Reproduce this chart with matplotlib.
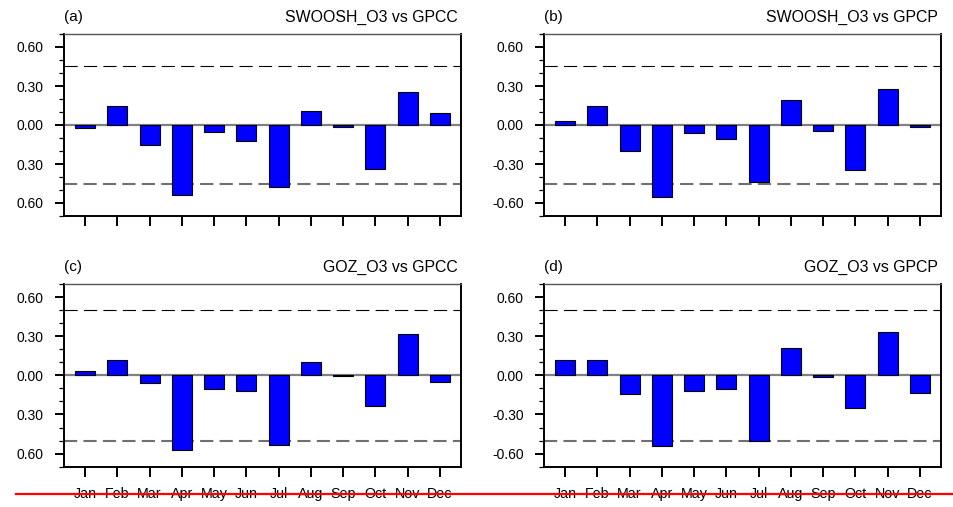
import matplotlib
matplotlib.use("Agg")
import matplotlib.pyplot as plt
from matplotlib.lines import Line2D
import numpy as np

plt.rcParams['font.family'] = ['Liberation Sans', 'DejaVu Sans']
plt.rcParams['lines.scale_dashes'] = False

months = ["Jan", "Feb", "Mar", "Apr", "May", "Jun", "Jul", "Aug", "Sep", "Oct", "Nov", "Dec"]

swoosh_gpcc = [-0.02, 0.15, -0.15, -0.54, -0.05, -0.12, -0.48, 0.11, -0.015, -0.34, 0.25, 0.09]
swoosh_gpcp = [0.03, 0.15, -0.20, -0.55, -0.065, -0.105, -0.44, 0.19, -0.045, -0.345, 0.275, -0.015]
goz_gpcc = [0.035, 0.115, -0.06, -0.57, -0.105, -0.12, -0.53, 0.105, -0.005, -0.235, 0.315, -0.05]
goz_gpcp = [0.115, 0.115, -0.145, -0.545, -0.12, -0.105, -0.505, 0.21, -0.013, -0.25, 0.33, -0.135]

panel_letters = ["(a)", "(b)", "(c)", "(d)"]
panel_titles = ["SWOOSH_O3 vs GPCC", "SWOOSH_O3 vs GPCP", "GOZ_O3 vs GPCC", "GOZ_O3 vs GPCP"]
thresholds = [0.45, 0.45, 0.50, 0.50]

ytick_values = [0.6, 0.3, 0.0, -0.3, -0.6]
ytick_labels_left = ["0.60", "0.30", "0.00", "0.30", "0.60"]
ytick_labels_right = ["0.60", "0.30", "0.00", "-0.30", "-0.60"]
yminor_values = [0.7, 0.5, 0.4, 0.2, 0.1, -0.1, -0.2, -0.4, -0.5, -0.7]

W, H = 954, 507
fig = plt.figure(figsize=(W / 100, H / 100), dpi=100)

def rect(l, r, t, b):
    return [l / W, 1 - b / H, (r - l) / W, (b - t) / H]

rects = [rect(64, 461, 34, 216), rect(544, 941, 34, 216),
         rect(64, 461, 284, 466.7), rect(544, 941, 284, 466.7)]
data = [swoosh_gpcc, swoosh_gpcp, goz_gpcc, goz_gpcp]

x = np.arange(1, 13)
for i in range(4):
    ax = fig.add_axes(rects[i])
    ax.bar(x, data[i], width=0.62, color="#0000ff", edgecolor="black", linewidth=0.8, zorder=3)
    ax.axhline(0, color="#808080", lw=1.6, zorder=2)
    th = thresholds[i]
    ax.axhline(th, color="black", lw=0.8, dashes=(9.5, 4.5), zorder=2)
    ax.axhline(-th, color="#707070", lw=1.5, dashes=(9.5, 4.5), zorder=2)
    ax.set_xlim(0.35, 12.65)
    ax.set_ylim(-0.7, 0.7)
    ax.set_yticks(ytick_values)
    ax.set_yticklabels(ytick_labels_left if i % 2 == 0 else ytick_labels_right)
    ax.set_yticks(yminor_values, minor=True)
    ax.set_xticks(x)
    ax.set_xticks([], minor=True)
    if i >= 2:
        ax.set_xticklabels(months)
    else:
        ax.set_xticklabels([])
    ax.tick_params(which='both', right=False, top=False, labelright=False, labeltop=False)
    ax.tick_params(axis='y', which='major', direction='out', length=6.5, width=1.4,
                   labelsize=10, pad=8)
    ax.tick_params(axis='y', which='minor', direction='out', length=3.5, width=0.9)
    ax.tick_params(axis='x', which='major', direction='out', length=7.5, width=1.4,
                   labelsize=10.3, pad=7)
    for s in ["left", "bottom", "right"]:
        ax.spines[s].set_linewidth(1.4)
        ax.spines[s].set_color("black")
    ax.spines["top"].set_linewidth(1.0)
    ax.spines["top"].set_color("#555555")
    hpx = rects[i][3] * H
    ax.text(0.0, 1 + 17 / hpx, panel_letters[i], transform=ax.transAxes,
            ha="left", va="center", fontsize=11)
    ax.text(1 - 3 / 397, 1 + 17 / hpx, panel_titles[i], transform=ax.transAxes,
            ha="right", va="center", fontsize=11.4)

fig.add_artist(Line2D([16 / W, 1.0], [1 - 494 / H, 1 - 494 / H],
                      transform=fig.transFigure, color="red", lw=1.6, zorder=10))

fig.savefig("out.png", dpi=100)
